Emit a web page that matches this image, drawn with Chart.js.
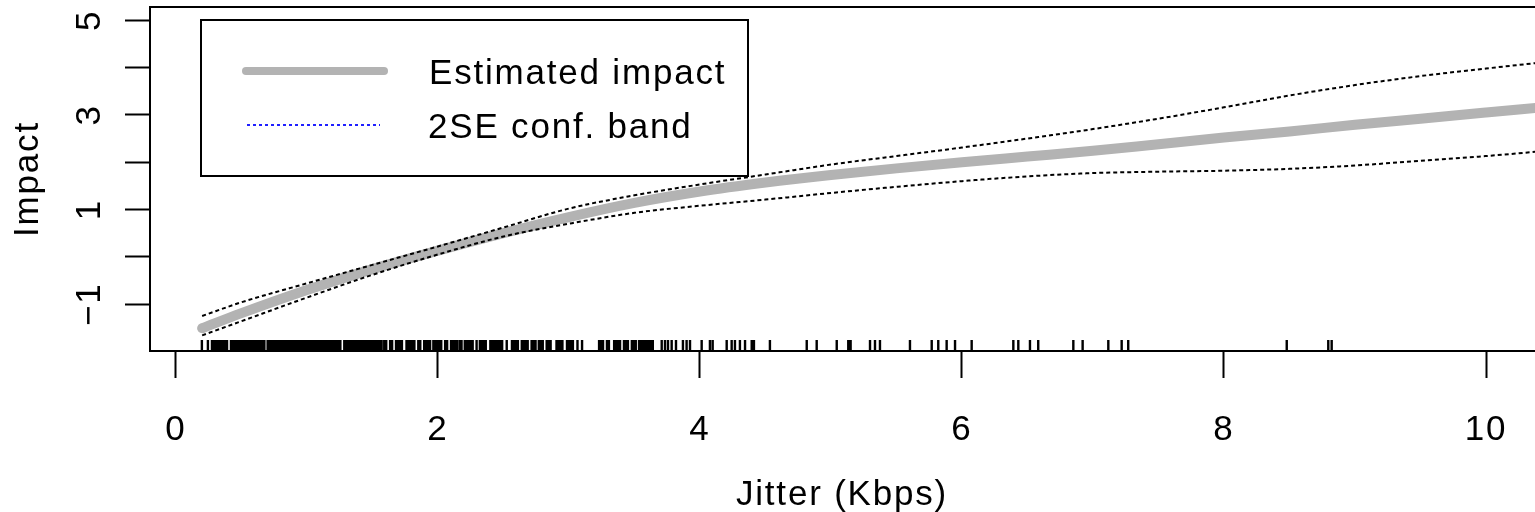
<!DOCTYPE html>
<html>
<head>
<meta charset="utf-8">
<script src="https://cdn.jsdelivr.net/npm/chart.js@4.4.1/dist/chart.umd.min.js"></script>
<style>
  html, body { margin: 0; padding: 0; background: #fff; overflow: hidden; }
  #chart { display: block; }
</style>
</head>
<body>
<canvas id="chart" width="1535" height="512"></canvas>
<script>
// ── DATA ─────────────────────────────────────────────
const jitter    = [0.2, 0.5, 1, 1.5, 2, 2.5, 3, 3.5, 4, 4.5, 5, 5.5, 6, 6.5, 7, 7.5, 8, 8.5, 9, 9.5, 10, 10.5];
const impact    = [-1.51, -1.19, -0.70, -0.26, 0.13, 0.50, 0.84, 1.14, 1.38, 1.57, 1.73, 1.87, 2.00, 2.12, 2.24, 2.38, 2.52, 2.65, 2.79, 2.92, 3.05, 3.18];
const upperBand = [-1.25, -0.96, -0.56, -0.17, 0.22, 0.62, 1.02, 1.30, 1.53, 1.74, 1.95, 2.13, 2.31, 2.50, 2.70, 2.92, 3.16, 3.41, 3.63, 3.82, 3.98, 4.13];
const lowerBand = [-1.66, -1.36, -0.86, -0.38, 0.05, 0.43, 0.70, 0.93, 1.08, 1.21, 1.35, 1.48, 1.60, 1.70, 1.77, 1.80, 1.82, 1.86, 1.93, 2.03, 2.13, 2.25];

// observed jitter values (rug along the x axis)
const rugJitter = [
  0.198, 0.244, 0.275,
  0.285, 0.30, 0.315, 0.33, 0.345, 0.36, 0.375, 0.39,
  0.42, 0.435, 0.45, 0.465, 0.48, 0.495, 0.51, 0.525, 0.542,
  0.56, 0.575, 0.59, 0.605, 0.62, 0.635, 0.65, 0.665, 0.675,
  0.70, 0.715, 0.73, 0.745, 0.76, 0.775, 0.79, 0.805, 0.82, 0.835, 0.85, 0.865, 0.88, 0.895,
  0.91, 0.925, 0.94, 0.955, 0.97, 0.985, 1.00, 1.015, 1.03, 1.045, 1.06, 1.075, 1.09, 1.105,
  1.12, 1.135, 1.15, 1.165, 1.18, 1.195, 1.21, 1.225, 1.24, 1.255,
  1.285, 1.30, 1.315, 1.33, 1.345, 1.36, 1.375, 1.39, 1.405, 1.42, 1.435, 1.45, 1.465, 1.48,
  1.495, 1.51, 1.525, 1.54, 1.555, 1.57,
  1.59, 1.605, 1.635, 1.65, 1.68, 1.695, 1.71, 1.725, 1.76, 1.775, 1.79, 1.805, 1.82, 1.85,
  1.865, 1.895, 1.91, 1.925, 1.94, 1.965, 1.98, 1.995, 2.01, 2.025, 2.055, 2.07, 2.10, 2.115,
  2.13, 2.145, 2.165, 2.18, 2.205, 2.22, 2.235, 2.25, 2.265, 2.295, 2.32, 2.335, 2.35, 2.365,
  2.40, 2.415, 2.43, 2.445, 2.46, 2.475, 2.49, 2.525, 2.565, 2.58, 2.595, 2.61, 2.64, 2.655,
  2.67, 2.685, 2.715, 2.73, 2.745, 2.77, 2.785, 2.80, 2.83, 2.845, 2.86, 2.905, 2.92, 2.935,
  2.95, 2.985, 3.00, 3.015, 3.03, 3.065, 3.10,
  3.23, 3.245, 3.26, 3.29, 3.305, 3.345, 3.36, 3.375, 3.39, 3.42, 3.435, 3.45, 3.48, 3.495,
  3.51, 3.535, 3.55, 3.565, 3.58, 3.595, 3.61, 3.625, 3.64,
  3.708, 3.733, 3.756, 3.784, 3.817, 3.870, 3.898, 3.924, 4.013, 4.076, 4.097, 4.204, 4.242,
  4.267, 4.305, 4.344, 4.395, 4.412, 4.534, 4.815, 4.891, 5.044, 5.132, 5.150, 5.298, 5.336,
  5.374, 5.603, 5.769, 5.819, 5.883, 5.947, 6.074, 6.392, 6.430, 6.519, 6.582, 6.850, 6.921,
  7.117, 7.219, 7.269, 8.479, 8.796, 8.822
];

const xTicks      = [0, 2, 4, 6, 8, 10];
const yTicks      = [-1, 0, 1, 2, 3, 4, 5];
const yTickLabels = [-1, 1, 3, 5];

const xTitle = "Jitter (Kbps)";
const yTitle = "Impact";
const legendLabels = ["Estimated impact", "2SE conf. band"];

const GREY = "#b3b3b3";
const FONT = '35px "Liberation Sans", Arial, sans-serif';

const pts = (ys) => jitter.map((v, i) => ({ x: v, y: ys[i] }));
const num = (v) => (v < 0 ? "\u2212" + Math.abs(v) : String(v));

// ── R-STYLE DECORATIONS (rug, box top, labels, legend) ──
const rPlot = {
  id: "rPlot",
  afterDatasetsDraw(chart) {
    const { ctx, chartArea: a, scales: { x } } = chart;
    ctx.save();
    ctx.beginPath();
    ctx.rect(a.left, a.top, a.right - a.left, a.bottom - a.top);
    ctx.clip();
    ctx.strokeStyle = "#000";
    ctx.lineWidth = 2.4;
    ctx.beginPath();
    rugJitter.forEach(v => {
      const px = x.getPixelForValue(v);
      ctx.moveTo(px, a.bottom);
      ctx.lineTo(px, a.bottom - 11);
    });
    ctx.stroke();
    ctx.restore();
  },
  afterDraw(chart) {
    const { ctx, chartArea: a, scales: { x, y } } = chart;
    ctx.save();

    // top edge of the box
    ctx.strokeStyle = "#000";
    ctx.lineWidth = 2;
    ctx.beginPath();
    ctx.moveTo(a.left - 1, a.top);
    ctx.lineTo(a.right, a.top);
    ctx.stroke();

    ctx.fillStyle = "#000";
    ctx.font = FONT;
    ctx.letterSpacing = "1.8px";
    ctx.textBaseline = "alphabetic";

    // x tick labels
    ctx.textAlign = "center";
    xTicks.forEach(v => ctx.fillText(num(v), x.getPixelForValue(v), a.bottom + 89));
    // x title
    ctx.fillText(xTitle, 842, 505);

    // y tick labels, rotated like R (las = 0)
    yTickLabels.forEach(v => {
      ctx.save();
      ctx.translate(a.left - 50, y.getPixelForValue(v));
      ctx.rotate(-Math.PI / 2);
      ctx.fillText(num(v), 0, 0);
      ctx.restore();
    });
    // y title
    ctx.save();
    ctx.translate(38, (a.top + a.bottom) / 2);
    ctx.rotate(-Math.PI / 2);
    ctx.fillText(yTitle, 0, 0);
    ctx.restore();

    // legend
    const L = a.left + 51, T = a.top + 13, W = 547, H = 156;
    ctx.fillStyle = "#fff";
    ctx.fillRect(L, T, W, H);
    ctx.strokeStyle = "#000";
    ctx.lineWidth = 2;
    ctx.strokeRect(L, T, W, H);

    ctx.lineCap = "round";
    ctx.strokeStyle = GREY;
    ctx.lineWidth = 8;
    ctx.beginPath();
    ctx.moveTo(L + 45, T + 51);
    ctx.lineTo(L + 183, T + 51);
    ctx.stroke();

    ctx.lineCap = "butt";
    ctx.strokeStyle = "#2020ff";
    ctx.lineWidth = 2;
    ctx.setLineDash([3, 3]);
    ctx.beginPath();
    ctx.moveTo(L + 46, T + 105);
    ctx.lineTo(L + 179, T + 105);
    ctx.stroke();
    ctx.setLineDash([]);

    ctx.fillStyle = "#000";
    ctx.textAlign = "left";
    ctx.fillText(legendLabels[0], L + 228, T + 64);
    ctx.fillText(legendLabels[1], L + 227, T + 118);

    ctx.restore();
  }
};

const config = {
  type: "line",
  data: {
    datasets: [
      {
        label: legendLabels[1],
        data: pts(upperBand),
        borderColor: "#000",
        borderWidth: 2,
        borderDash: [4, 3],
        pointRadius: 0,
        cubicInterpolationMode: "monotone",
      },
      {
        label: legendLabels[1],
        data: pts(lowerBand),
        borderColor: "#000",
        borderWidth: 2,
        borderDash: [4, 3],
        pointRadius: 0,
        cubicInterpolationMode: "monotone",
      },
      {
        label: legendLabels[0],
        data: pts(impact),
        borderColor: GREY,
        borderWidth: 10,
        borderCapStyle: "round",
        pointRadius: 0,
        cubicInterpolationMode: "monotone",
      }
    ]
  },
  options: {
    responsive: false,
    animation: false,
    devicePixelRatio: 1,
    layout: { padding: { top: 7, right: 0, left: 0, bottom: 0 } },
    scales: {
      x: {
        type: "linear",
        min: -0.198,
        max: 10.374,
        afterBuildTicks: s => { s.ticks = xTicks.map(v => ({ value: v })); },
        afterFit: s => { s.height = 161; },
        grid: { drawOnChartArea: false, drawTicks: true, tickLength: 27, tickWidth: 2, tickColor: "#000" },
        border: { display: true, color: "#000", width: 2 },
        ticks: { display: false }
      },
      y: {
        type: "linear",
        min: -1.99,
        max: 5.28,
        afterBuildTicks: s => { s.ticks = yTicks.map(v => ({ value: v })); },
        afterFit: s => { s.width = 150; },
        grid: { drawOnChartArea: false, drawTicks: true, tickLength: 25, tickWidth: 2, tickColor: "#000" },
        border: { display: true, color: "#000", width: 2 },
        ticks: { display: false }
      }
    },
    plugins: {
      legend: { display: false },
      tooltip: { enabled: false }
    }
  },
  plugins: [rPlot]
};

new Chart(document.getElementById("chart").getContext("2d"), config);
</script>
</body>
</html>
